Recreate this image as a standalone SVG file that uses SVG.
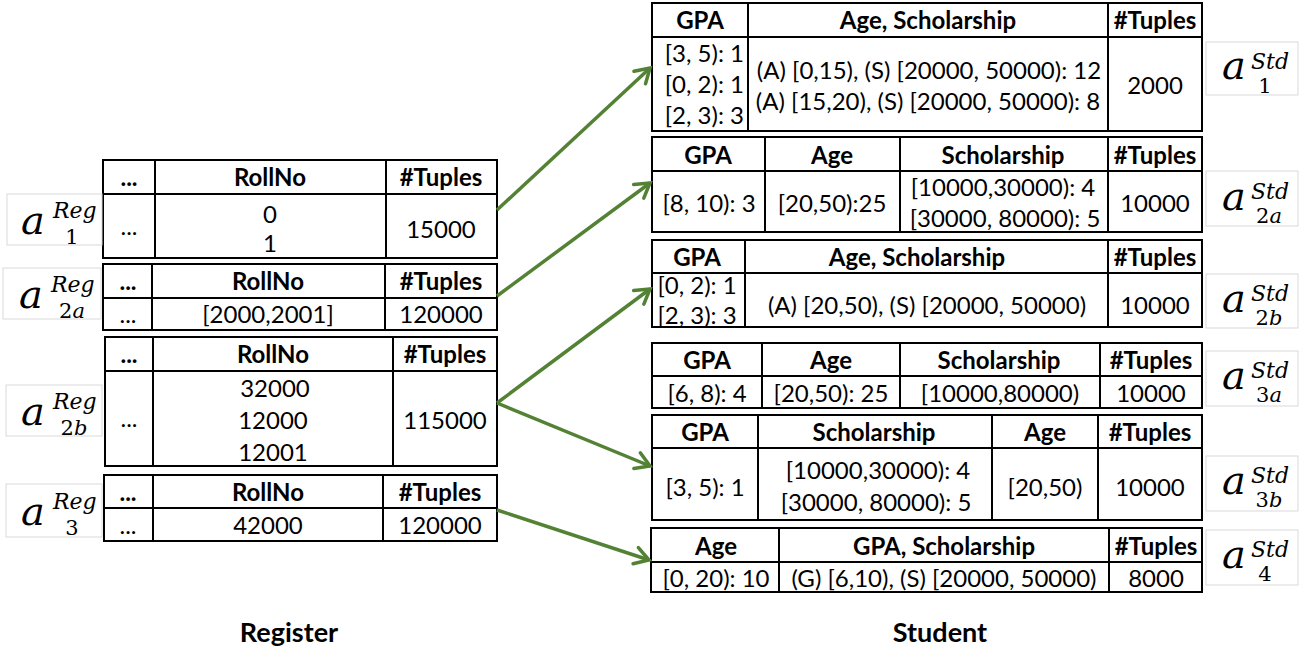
<svg xmlns="http://www.w3.org/2000/svg" width="1307" height="651" viewBox="0 0 1307 651">
  <style>
    .tb { fill: #ffffff; stroke: #000000; stroke-width: 2; }
    .ln { stroke: #000000; stroke-width: 2; }
    .h { font-family: Lato, "Liberation Sans", sans-serif; font-weight: bold; font-size: 24px; text-anchor: middle; fill: #000; }
    .b { font-family: Lato, "Liberation Sans", sans-serif; font-size: 24px; text-anchor: middle; fill: #000; }
    .e { text-anchor: end; }
    .cap { font-family: Lato, "Liberation Sans", sans-serif; font-weight: bold; font-size: 27px; text-anchor: middle; fill: #000; }
    .lb { fill: #ffffff; stroke: #d9d9d9; stroke-width: 1; }
    .m { font-family: "DejaVu Serif", "Liberation Serif", serif; font-style: italic; font-size: 40px; fill: #000; }
    .sp { font-family: "DejaVu Serif", "Liberation Serif", serif; font-style: italic; font-size: 22px; fill: #000; }
    .sb { font-family: "DejaVu Serif", "Liberation Serif", serif; font-size: 21px; text-anchor: middle; fill: #000; }
    .sb tspan.i { font-style: italic; }
    .arr { stroke: #548235; stroke-width: 3.5; fill: none; marker-end: url(#ah); }
  </style>
  <defs>
    <marker id="ah" markerUnits="userSpaceOnUse" viewBox="-18 -12 20 24" refX="0" refY="0" markerWidth="20" markerHeight="24" orient="auto" overflow="visible">
      <path d="M-14,-8.5 L0,0 L-14,8.5" fill="none" stroke="#548235" stroke-width="3.5" stroke-linecap="round"/>
    </marker>
  </defs>

  <rect width="1307" height="651" fill="#ffffff"/>

  <!-- Register partitions -->
  <g id="reg1">
    <rect class="tb" x="103" y="160" width="394" height="98"/>
    <line class="ln" x1="103" y1="194" x2="497" y2="194"/>
    <line class="ln" x1="155" y1="160" x2="155" y2="258"/>
    <line class="ln" x1="386" y1="160" x2="386" y2="258"/>
    <text class="h" x="129" y="186">...</text>
    <text class="h" x="270" y="186">RollNo</text>
    <text class="h" x="441" y="186">#Tuples</text>
    <text class="b" x="129" y="235">...</text>
    <text class="b" x="270" y="223">0</text>
    <text class="b" x="270" y="252">1</text>
    <text class="b" x="441" y="238">15000</text>
  </g>
  <g id="reg2a">
    <rect class="tb" x="103" y="264" width="394" height="66"/>
    <line class="ln" x1="103" y1="298" x2="497" y2="298"/>
    <line class="ln" x1="152" y1="264" x2="152" y2="330"/>
    <line class="ln" x1="385" y1="264" x2="385" y2="330"/>
    <text class="h" x="128" y="290">...</text>
    <text class="h" x="268" y="290">RollNo</text>
    <text class="h" x="441" y="290">#Tuples</text>
    <text class="b" x="128" y="323">...</text>
    <text class="b" x="268" y="323">[2000,2001]</text>
    <text class="b" x="441" y="323">120000</text>
  </g>
  <g id="reg2b">
    <rect class="tb" x="105" y="337" width="392" height="129"/>
    <line class="ln" x1="105" y1="371" x2="497" y2="371"/>
    <line class="ln" x1="153" y1="337" x2="153" y2="466"/>
    <line class="ln" x1="393" y1="337" x2="393" y2="466"/>
    <text class="h" x="129" y="363">...</text>
    <text class="h" x="273" y="363">RollNo</text>
    <text class="h" x="445" y="363">#Tuples</text>
    <text class="b" x="129" y="427">...</text>
    <text class="b" x="275" y="397">32000</text>
    <text class="b" x="273" y="429">12000</text>
    <text class="b" x="273" y="461">12001</text>
    <text class="b" x="445" y="429">115000</text>
  </g>
  <g id="reg3">
    <rect class="tb" x="104" y="475" width="393" height="66"/>
    <line class="ln" x1="104" y1="508" x2="497" y2="508"/>
    <line class="ln" x1="153" y1="475" x2="153" y2="541"/>
    <line class="ln" x1="383" y1="475" x2="383" y2="541"/>
    <text class="h" x="128" y="501">...</text>
    <text class="h" x="268" y="501">RollNo</text>
    <text class="h" x="440" y="501">#Tuples</text>
    <text class="b" x="128" y="534">...</text>
    <text class="b" x="268" y="534">42000</text>
    <text class="b" x="440" y="534">120000</text>
  </g>

  <!-- Register partition labels -->
  <g id="lbl-reg1" transform="translate(7,194)">
    <rect class="lb" x="0" y="0" width="95" height="51"/>
    <text class="m" x="14" y="40">a</text>
    <text class="sp" x="46" y="24">Reg</text>
    <text class="sb" x="65" y="50">1</text>
  </g>
  <g id="lbl-reg2a" transform="translate(3,268)">
    <rect class="lb" x="0" y="0" width="98" height="51"/>
    <text class="m" x="16" y="40">a</text>
    <text class="sp" x="48" y="24">Reg</text>
    <text class="sb" x="69" y="50">2<tspan class="i">a</tspan></text>
  </g>
  <g id="lbl-reg2b" transform="translate(6,385)">
    <rect class="lb" x="0" y="0" width="96" height="51"/>
    <text class="m" x="15" y="40">a</text>
    <text class="sp" x="47" y="24">Reg</text>
    <text class="sb" x="68" y="50">2<tspan class="i">b</tspan></text>
  </g>
  <g id="lbl-reg3" transform="translate(6,484)">
    <rect class="lb" x="0" y="0" width="96" height="53"/>
    <text class="m" x="15" y="41">a</text>
    <text class="sp" x="47" y="25">Reg</text>
    <text class="sb" x="66" y="51">3</text>
  </g>

  <!-- Student partitions -->
  <g id="std1">
    <rect class="tb" x="652" y="3" width="550" height="128"/>
    <line class="ln" x1="652" y1="37" x2="1202" y2="37"/>
    <line class="ln" x1="748" y1="3" x2="748" y2="131"/>
    <line class="ln" x1="1108" y1="3" x2="1108" y2="131"/>
    <text class="h" x="700" y="29">GPA</text>
    <text class="h" x="928" y="29">Age, Scholarship</text>
    <text class="h" x="1155" y="29">#Tuples</text>
    <text class="b e" x="744" y="62">[3, 5): 1</text>
    <text class="b e" x="744" y="93">[0, 2): 1</text>
    <text class="b e" x="744" y="124">[2, 3): 3</text>
    <text class="b" x="929" y="79">(A) [0,15), (S) [20000, 50000): 12</text>
    <text class="b" x="928" y="110">(A) [15,20), (S) [20000, 50000): 8</text>
    <text class="b" x="1155" y="94">2000</text>
  </g>
  <g id="std2a">
    <rect class="tb" x="652" y="137" width="550" height="95"/>
    <line class="ln" x1="652" y1="171" x2="1202" y2="171"/>
    <line class="ln" x1="765" y1="137" x2="765" y2="232"/>
    <line class="ln" x1="900" y1="137" x2="900" y2="232"/>
    <line class="ln" x1="1108" y1="137" x2="1108" y2="232"/>
    <text class="h" x="708" y="164">GPA</text>
    <text class="h" x="832" y="164">Age</text>
    <text class="h" x="1003" y="164">Scholarship</text>
    <text class="h" x="1155" y="164">#Tuples</text>
    <text class="b" x="709" y="212">[8, 10): 3</text>
    <text class="b" x="832" y="212">[20,50):25</text>
    <text class="b" x="1003" y="196">[10000,30000): 4</text>
    <text class="b" x="1005" y="227">[30000, 80000): 5</text>
    <text class="b" x="1155" y="212">10000</text>
  </g>
  <g id="std2b">
    <rect class="tb" x="652" y="240" width="550" height="87"/>
    <line class="ln" x1="652" y1="273" x2="1202" y2="273"/>
    <line class="ln" x1="745" y1="240" x2="745" y2="327"/>
    <line class="ln" x1="1108" y1="240" x2="1108" y2="327"/>
    <text class="h" x="697" y="266">GPA</text>
    <text class="h" x="917" y="266">Age, Scholarship</text>
    <text class="h" x="1155" y="266">#Tuples</text>
    <text class="b" x="697" y="294">[0, 2): 1</text>
    <text class="b" x="697" y="324">[2, 3): 3</text>
    <text class="b" x="927" y="314">(A) [20,50), (S) [20000, 50000)</text>
    <text class="b" x="1155" y="314">10000</text>
  </g>
  <g id="std3a">
    <rect class="tb" x="652" y="343" width="550" height="65"/>
    <line class="ln" x1="652" y1="376" x2="1202" y2="376"/>
    <line class="ln" x1="762" y1="343" x2="762" y2="408"/>
    <line class="ln" x1="900" y1="343" x2="900" y2="408"/>
    <line class="ln" x1="1100" y1="343" x2="1100" y2="408"/>
    <text class="h" x="707" y="369">GPA</text>
    <text class="h" x="831" y="369">Age</text>
    <text class="h" x="999" y="369">Scholarship</text>
    <text class="h" x="1151" y="369">#Tuples</text>
    <text class="b" x="707" y="402">[6, 8): 4</text>
    <text class="b" x="831" y="402">[20,50): 25</text>
    <text class="b" x="1000" y="402">[10000,80000)</text>
    <text class="b" x="1151" y="402">10000</text>
  </g>
  <g id="std3b">
    <rect class="tb" x="652" y="415" width="550" height="105"/>
    <line class="ln" x1="652" y1="448" x2="1202" y2="448"/>
    <line class="ln" x1="758" y1="415" x2="758" y2="520"/>
    <line class="ln" x1="992" y1="415" x2="992" y2="520"/>
    <line class="ln" x1="1098" y1="415" x2="1098" y2="520"/>
    <text class="h" x="705" y="441">GPA</text>
    <text class="h" x="874" y="441">Scholarship</text>
    <text class="h" x="1045" y="441">Age</text>
    <text class="h" x="1150" y="441">#Tuples</text>
    <text class="b" x="705" y="496">[3, 5): 1</text>
    <text class="b" x="878" y="479">[10000,30000): 4</text>
    <text class="b" x="876" y="511">[30000, 80000): 5</text>
    <text class="b" x="1045" y="496">[20,50)</text>
    <text class="b" x="1150" y="496">10000</text>
  </g>
  <g id="std4">
    <rect class="tb" x="651" y="528" width="551" height="64"/>
    <line class="ln" x1="651" y1="562" x2="1202" y2="562"/>
    <line class="ln" x1="779" y1="528" x2="779" y2="592"/>
    <line class="ln" x1="1109" y1="528" x2="1109" y2="592"/>
    <text class="h" x="716" y="555">Age</text>
    <text class="h" x="944" y="555">GPA, Scholarship</text>
    <text class="h" x="1156" y="555">#Tuples</text>
    <text class="b" x="716" y="587">[0, 20): 10</text>
    <text class="b" x="944" y="587">(G) [6,10), (S) [20000, 50000)</text>
    <text class="b" x="1156" y="587">8000</text>
  </g>

  <!-- Student partition labels -->
  <g id="lbl-std1" transform="translate(1206,42)">
    <rect class="lb" x="0" y="0" width="92" height="53"/>
    <text class="m" x="16" y="37">a</text>
    <text class="sp" x="45" y="27">Std</text>
    <text class="sb" x="59" y="51">1</text>
  </g>
  <g id="lbl-std2a" transform="translate(1206,171)">
    <rect class="lb" x="0" y="0" width="92" height="55"/>
    <text class="m" x="16" y="39">a</text>
    <text class="sp" x="45" y="28">Std</text>
    <text class="sb" x="63" y="52">2<tspan class="i">a</tspan></text>
  </g>
  <g id="lbl-std2b" transform="translate(1206,274)">
    <rect class="lb" x="0" y="0" width="92" height="54"/>
    <text class="m" x="16" y="38">a</text>
    <text class="sp" x="45" y="27">Std</text>
    <text class="sb" x="63" y="51">2<tspan class="i">b</tspan></text>
  </g>
  <g id="lbl-std3a" transform="translate(1206,351)">
    <rect class="lb" x="0" y="0" width="92" height="55"/>
    <text class="m" x="16" y="38">a</text>
    <text class="sp" x="45" y="27">Std</text>
    <text class="sb" x="63" y="51">3<tspan class="i">a</tspan></text>
  </g>
  <g id="lbl-std3b" transform="translate(1206,456)">
    <rect class="lb" x="0" y="0" width="92" height="55"/>
    <text class="m" x="16" y="38">a</text>
    <text class="sp" x="45" y="27">Std</text>
    <text class="sb" x="63" y="51">3<tspan class="i">b</tspan></text>
  </g>
  <g id="lbl-std4" transform="translate(1206,530)">
    <rect class="lb" x="0" y="0" width="92" height="55"/>
    <text class="m" x="16" y="38">a</text>
    <text class="sp" x="45" y="27">Std</text>
    <text class="sb" x="59" y="51">4</text>
  </g>

  <!-- Connectors -->
  <g id="connectors">
    <line class="arr" x1="497" y1="210" x2="650" y2="68"/>
    <line class="arr" x1="497" y1="296" x2="650" y2="183"/>
    <line class="arr" x1="497" y1="403" x2="650" y2="289"/>
    <line class="arr" x1="497" y1="403" x2="650" y2="466"/>
    <line class="arr" x1="497" y1="510" x2="649" y2="560"/>
  </g>

  <!-- Captions -->
  <text class="cap" x="289" y="642">Register</text>
  <text class="cap" x="940" y="642">Student</text>
</svg>
